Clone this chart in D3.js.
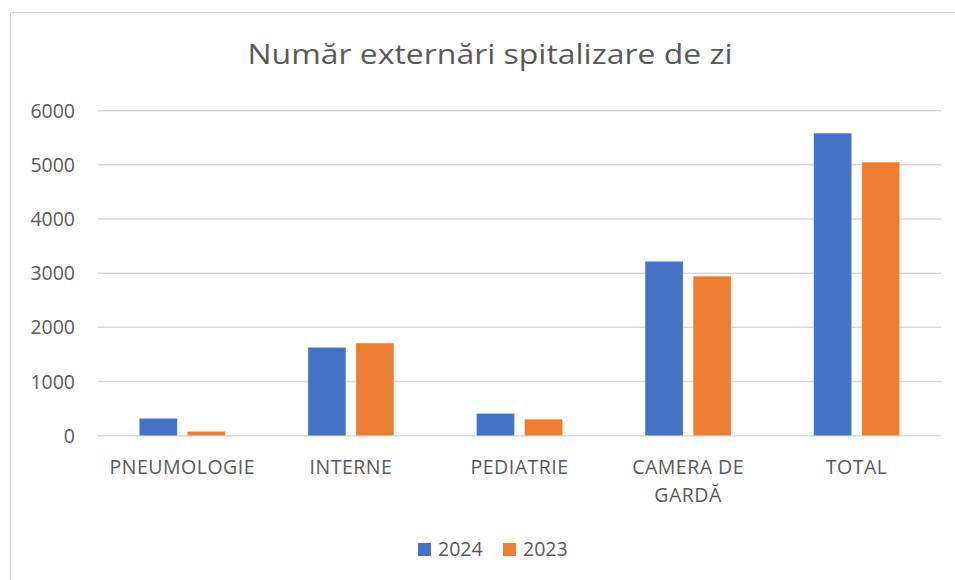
<!DOCTYPE html>
<html>
<head>
<meta charset="utf-8">
<script src="https://cdn.jsdelivr.net/npm/d3@7"></script>
<style>
  body { margin: 0; background: #fff; }
  text { font-family: "Open Sans", sans-serif; fill: #595959; }
</style>
</head>
<body>
<script>
const categories = ['PNEUMOLOGIE', 'INTERNE', 'PEDIATRIE', 'CAMERA DE GARDĂ', 'TOTAL'];
const seriesNames = ['2024', '2023'];
const values2024 = [320, 1630, 410, 3220, 5585];
const values2023 = [80, 1710, 305, 2945, 5050];
const yTicks = [0, 1000, 2000, 3000, 4000, 5000, 6000];
const colors = ['#4472C4', '#ED7D31'];

const width = 955;
const height = 580;
const margin = { left: 98, right: 14, top: 110.7, bottom: 144.3 };

const svg = d3.select('body').append('svg')
  .attr('width', width)
  .attr('height', height);

// chart frame
svg.append('rect')
  .attr('x', 10.5).attr('y', 12.5)
  .attr('width', width + 20).attr('height', height + 20)
  .attr('fill', 'none')
  .attr('stroke', '#d9d9d9')
  .attr('stroke-width', 1);

svg.append('text')
  .attr('x', 490).attr('y', 63.5)
  .attr('text-anchor', 'middle')
  .attr('textLength', 485)
  .attr('lengthAdjust', 'spacingAndGlyphs')
  .style('font-size', '27px')
  .text('Număr externări spitalizare de zi');

const x = d3.scaleBand()
  .domain(categories)
  .range([margin.left, width - margin.right])
  .paddingInner(0.49)
  .paddingOuter(0.245);

const xInner = d3.scaleBand()
  .domain(seriesNames)
  .range([0, x.bandwidth()])
  .paddingInner(0.21);

const y = d3.scaleLinear()
  .domain([0, 6000])
  .range([height - margin.bottom, margin.top]);

// gridlines
svg.append('g')
  .selectAll('line')
  .data(yTicks)
  .enter().append('line')
  .attr('x1', margin.left).attr('x2', width - margin.right)
  .attr('y1', d => y(d)).attr('y2', d => y(d))
  .attr('stroke', '#d9d9d9')
  .attr('stroke-width', 1.5);

// y labels
svg.append('g')
  .selectAll('text')
  .data(yTicks)
  .enter().append('text')
  .attr('x', 75)
  .attr('y', d => y(d))
  .attr('dy', '0.36em')
  .attr('text-anchor', 'end')
  .style('font-size', '19.5px')
  .text(d => d);

const rows = categories.map((c, i) => ({ cat: c, vals: [values2024[i], values2023[i]] }));

const groups = svg.append('g')
  .selectAll('g')
  .data(rows)
  .enter().append('g')
  .attr('transform', d => `translate(${x(d.cat)},0)`);

groups.selectAll('rect')
  .data(d => d.vals.map((v, j) => ({ key: seriesNames[j], v, j })))
  .enter().append('rect')
  .attr('x', d => xInner(d.key))
  .attr('y', d => y(d.v))
  .attr('width', xInner.bandwidth())
  .attr('height', d => y(0) - y(d.v))
  .attr('fill', d => colors[d.j])
  .attr('stroke', '#fff')
  .attr('stroke-opacity', 0.35)
  .attr('stroke-width', 0.8);

// category labels, wrapped like the original
const labelLines = { 'CAMERA DE GARDĂ': ['CAMERA DE', 'GARDĂ'] };
const xLabels = svg.append('g')
  .selectAll('text')
  .data(categories)
  .enter().append('text')
  .attr('x', d => x(d) + x.bandwidth() / 2)
  .attr('y', 474)
  .attr('text-anchor', 'middle')
  .style('font-size', '19.5px')
  .style('letter-spacing', '0.5px');

xLabels.each(function(d) {
  const lines = labelLines[d] || [d];
  d3.select(this).selectAll('tspan')
    .data(lines)
    .enter().append('tspan')
    .attr('x', x(d) + x.bandwidth() / 2)
    .attr('dy', (l, i) => i === 0 ? 0 : 28)
    .text(l => l);
});

// legend
const legendX = [418, 503];
const legend = svg.append('g')
  .selectAll('g')
  .data(seriesNames)
  .enter().append('g')
  .attr('transform', (d, i) => `translate(${legendX[i]},543)`);

legend.append('rect')
  .attr('width', 13).attr('height', 13)
  .attr('fill', (d, i) => colors[i]);

legend.append('text')
  .attr('x', 20).attr('y', 13)
  .style('font-size', '19.5px')
  .text(d => d);
</script>
</body>
</html>
